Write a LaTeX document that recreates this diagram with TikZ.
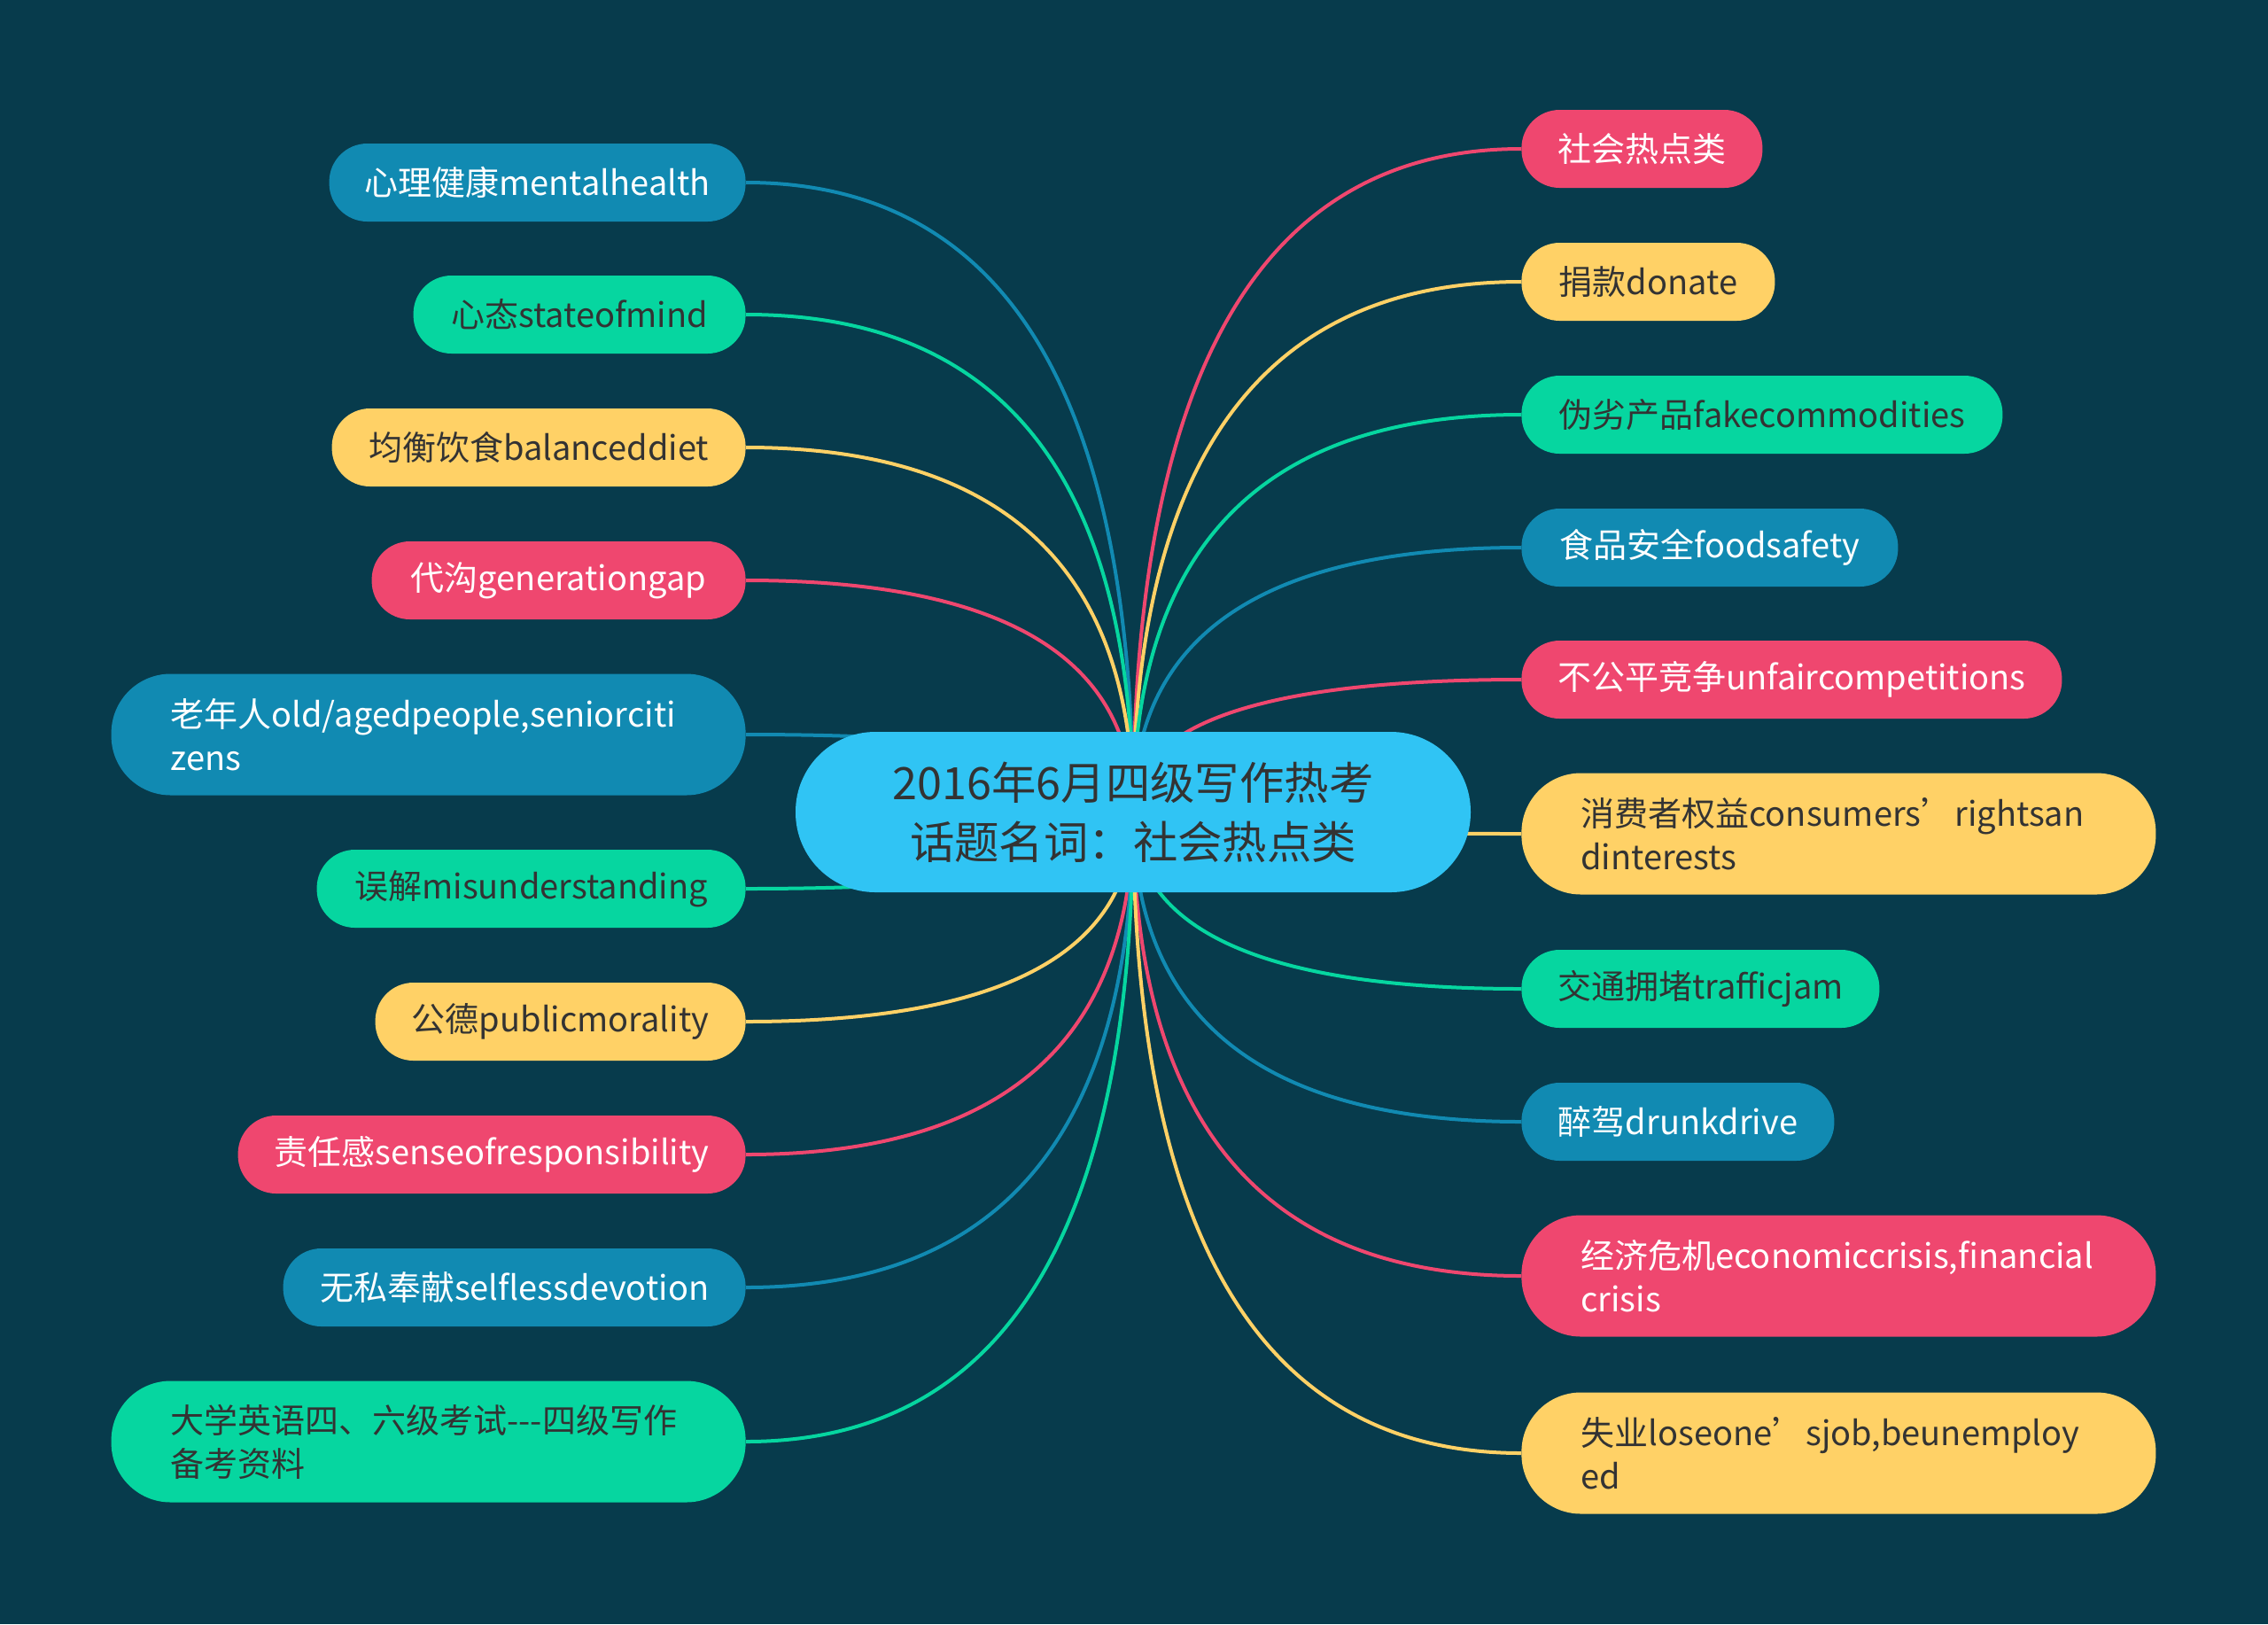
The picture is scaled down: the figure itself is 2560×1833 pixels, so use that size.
\documentclass[tikz,border=0pt]{standalone}
\usepackage{fontspec}
\newfontfamily\cjk{Noto Sans CJK SC}
\usetikzlibrary{calc}
\definecolor{bgc}{HTML}{073B4C}
\definecolor{cB}{HTML}{118AB2}
\definecolor{cG}{HTML}{06D6A0}
\definecolor{cY}{HTML}{FFD166}
\definecolor{cR}{HTML}{EF476F}
\definecolor{cC}{HTML}{30C4F4}
\definecolor{dark}{HTML}{333333}
\pgfdeclarelayer{back}\pgfdeclarelayer{lines}\pgfsetlayers{back,lines,main}
\newcommand\conn[3]{\draw[link,#3] (#1.#2) .. controls ($(#1.#2)!0.6667!(C |- #1.#2)$) and ($(C)!0.6667!(C |- #1.#2)$) .. (C);}
\tikzset{
 link/.style={line width=2pt},
 leaf/.style={rounded corners=21.5pt, minimum height=44pt, inner sep=0pt, font=\cjk\fontsize{19}{24.5}\selectfont, align=center},
 big/.style={leaf, rounded corners=33.5pt, minimum height=68.5pt, minimum width=358pt, text width=291pt, align=left},
 nB/.style={fill=cB,text=white}, nG/.style={fill=cG,text=dark},
 nY/.style={fill=cY,text=dark}, nR/.style={fill=cR,text=white},
 hub/.style={fill=cC, text=dark, rounded corners=45pt, minimum width=381pt, minimum height=90.5pt, inner sep=0pt, font=\cjk\fontsize{25.2}{33.5}\selectfont, align=center}
}
\begin{document}
\begin{tikzpicture}[x=0.5pt,y=-0.5pt]
\begin{pgfonlayer}{back}\fill[bgc] (0,0) rectangle (2560,1833);\end{pgfonlayer}
\useasboundingbox (0,0) rectangle (2560,1833);
\coordinate (C) at (1279,917);
% left
\node[leaf,nB,anchor=east,minimum width=235pt] (L1) at (842,206) {心理健康mentalhealth};
\node[leaf,nG,anchor=east,minimum width=187.5pt] (L2) at (842,355) {心态stateofmind};
\node[leaf,nY,anchor=east,minimum width=233.5pt] (L3) at (842,505) {均衡饮食balanceddiet};
\node[leaf,nR,anchor=east,minimum width=211pt] (L4) at (842,655) {代沟generationgap};
\node[big,nB,anchor=east] (L5) at (842,829) {老年人old/agedpeople,seniorciti\\zens};
\node[leaf,nG,anchor=east,minimum width=242pt] (L6) at (842,1003) {误解misunderstanding};
\node[leaf,nY,anchor=east,minimum width=209pt] (L7) at (842,1153) {公德publicmorality};
\node[leaf,nR,anchor=east,minimum width=286.5pt] (L8) at (842,1303) {责任感senseofresponsibility};
\node[leaf,nB,anchor=east,minimum width=261pt] (L9) at (842,1453) {无私奉献selflessdevotion};
\node[big,nG,anchor=east] (L10) at (842,1627) {大学英语四、六级考试-\kern0pt-\kern0pt-四级写作\\备考资料};
% right
\node[leaf,nR,anchor=west,minimum width=136pt] (R1) at (1717,168) {社会热点类};
\node[leaf,nY,anchor=west,minimum width=143pt] (R2) at (1717,318) {捐款donate};
\node[leaf,nG,anchor=west,minimum width=271.5pt] (R3) at (1717,468) {伪劣产品fakecommodities};
\node[leaf,nB,anchor=west,minimum width=212.5pt] (R4) at (1717,618) {食品安全foodsafety};
\node[leaf,nR,anchor=west,minimum width=305pt] (R5) at (1717,767) {不公平竞争unfaircompetitions};
\node[big,nY,anchor=west] (R6) at (1717,941) {消费者权益consumers’rightsan\\dinterests};
\node[leaf,nG,anchor=west,minimum width=202pt] (R7) at (1717,1116) {交通拥堵trafficjam};
\node[leaf,nB,anchor=west,minimum width=176.5pt] (R8) at (1717,1266) {醉驾drunkdrive};
\node[big,nR,anchor=west] (R9) at (1717,1440) {经济危机economiccrisis,financial\\crisis};
\node[big,nY,anchor=west] (R10) at (1717,1640) {失业loseone’sjob,beunemploy\\ed};
\begin{pgfonlayer}{lines}
\conn{L1}{east}{cB}
\conn{L2}{east}{cG}
\conn{L3}{east}{cY}
\conn{L4}{east}{cR}
\conn{L5}{east}{cB}
\conn{L6}{east}{cG}
\conn{L7}{east}{cY}
\conn{L8}{east}{cR}
\conn{L9}{east}{cB}
\conn{L10}{east}{cG}
\conn{R1}{west}{cR}
\conn{R2}{west}{cY}
\conn{R3}{west}{cG}
\conn{R4}{west}{cB}
\conn{R5}{west}{cR}
\conn{R6}{west}{cY}
\conn{R7}{west}{cG}
\conn{R8}{west}{cB}
\conn{R9}{west}{cR}
\conn{R10}{west}{cY}
\end{pgfonlayer}
\node[hub] (hub) at (1279,916.5) {2016年6月四级写作热考\\话题名词：社会热点类};
\end{tikzpicture}
\end{document}
